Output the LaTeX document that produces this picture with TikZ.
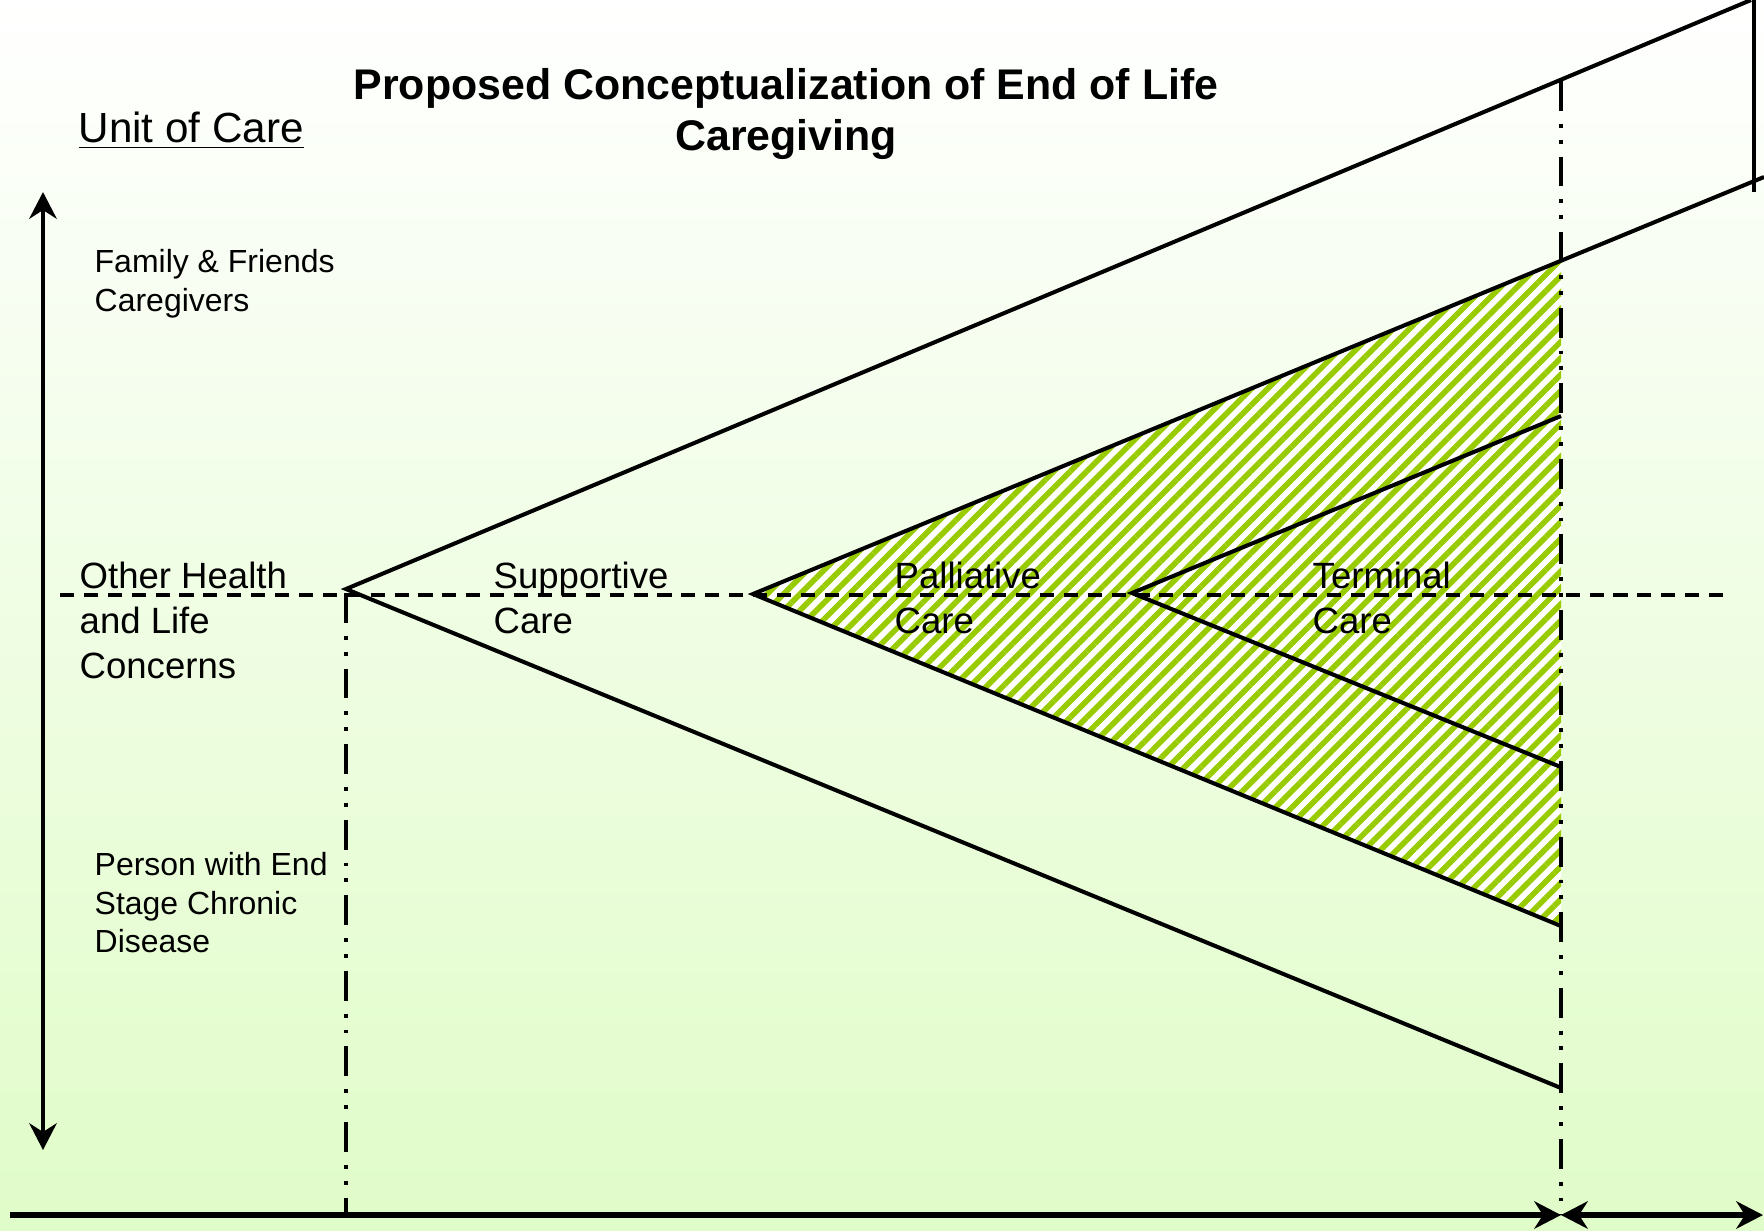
\documentclass[tikz,border=0pt]{standalone}
\usepackage{fontspec}
\setmainfont{Liberation Sans}
\usepackage{tikz}
\usetikzlibrary{arrows.meta,patterns,patterns.meta,calc,positioning}
\usepackage{xcolor}
\definecolor{hatchgreen}{RGB}{153,204,0}
\definecolor{paleground}{RGB}{224,252,200}

\begin{document}
\begin{tikzpicture}[x=0.1mm,y=-0.1mm,
  slant/.style={line width=1.15pt},
  midline/.style={line width=1.2pt,dash pattern=on 4pt off 2.8pt},
  phaseline/.style={line width=1.15pt,dash pattern=on 8.5pt off 3.7pt on 1.1pt off 3.4pt on 1.1pt off 3.7pt},
  notch/.tip={Stealth[length=7.6pt,width=7.8pt]},
  lbl/.style={anchor=north west,inner sep=0pt,align=left,font=\fontsize{10.4}{12.8}\selectfont},
  lblsmall/.style={anchor=north west,inner sep=0pt,align=left,font=\fontsize{9.1}{10.9}\selectfont}]
 \useasboundingbox (0,0) rectangle (1764,1230);
 \shade[top color=white,bottom color=paleground] (0,0) rectangle (1764,1230);
 % corner points of the three wedges
 \coordinate (supApex) at (346,589);
 \coordinate (supTop) at (1751,0);
 \coordinate (supBot) at (1561,1088);
 \coordinate (palApex) at (753,594);
 \coordinate (palTop) at (1561,261);
 \coordinate (palEnd) at (1764,177);
 \coordinate (palBot) at (1561,926);
 \coordinate (terApex) at (1132,593);
 \coordinate (terTop) at (1561,416);
 \coordinate (terBot) at (1561,767);
 \coordinate (rimTop) at (1754,0);
 \coordinate (rimBot) at (1754,192);
 \coordinate (midL) at (60,595);
 \coordinate (midR) at (1732,595);
 \coordinate (onsetTop) at (346,593);
 \coordinate (onsetBot) at (346,1215);
 \coordinate (deathTop) at (1561,81);
 \coordinate (deathBot) at (1561,1215);
 \coordinate (careTop) at (43,192);
 \coordinate (careBot) at (43,1150);
 \coordinate (timeL) at (10,1215);
 \coordinate (timeR) at (1763,1215);

 \fill[white,postaction={pattern={Lines[angle=45,distance=3.3pt,line width=1.6pt]},pattern color=hatchgreen}]
   (palApex) -- (palTop) -- (palBot) -- cycle;
 \draw[slant] (supTop) -- (supApex) -- (supBot);
 \draw[slant] (palEnd) -- (palApex) -- (palBot);
 \draw[slant] (terTop) -- (terApex) -- (terBot);
 \draw[slant] (rimTop) -- (rimBot);
 \draw[midline] (midL) -- (midR);
 \draw[phaseline] (onsetTop) -- (onsetBot);
 \draw[phaseline] (deathTop) -- (deathBot);
 \draw[line width=1.2pt,notch-notch] (careBot) -- (careTop);
 \draw[line width=1.6pt,-notch] (timeL) -- (deathBot);
 \draw[line width=1.6pt,notch-notch] (deathBot) -- (timeR);

 \node[anchor=north,inner sep=0pt,align=center,font=\bfseries\fontsize{12.2}{14.5}\selectfont] (title) at (786,68)
   {Proposed Conceptualization of End of Life\\Caregiving};
 \node[anchor=north west,inner sep=0pt,font=\fontsize{12}{14}\selectfont] (unit) at (78,111) {\underline{Unit of Care}};
 \node[lblsmall] (family) at (94,249) {Family \& Friends\\Caregivers};
 \node[lbl] (other) at (79,561) {Other Health\\and Life\\Concerns};
 \node[lbl] (supportive) at (493,561) {Supportive\\Care};
 \node[lbl] (palliative) at (894,561) {Palliative\\Care};
 \node[lbl] (terminal) at (1312,561) {Terminal\\Care};
 \node[lblsmall] (person) at (94,852) {Person with End\\Stage Chronic\\Disease};
\end{tikzpicture}
\end{document}
